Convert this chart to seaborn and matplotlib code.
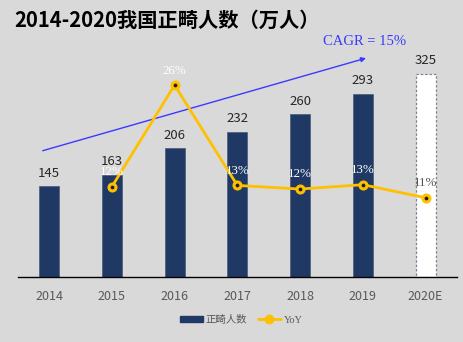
import matplotlib
matplotlib.use("Agg")
import matplotlib.pyplot as plt
import seaborn as sns
import numpy as np
import pandas as pd

years = ["2014", "2015", "2016", "2017", "2018", "2019", "2020E"]
patients = [145, 163, 206, 232, 260, 293, 325]
yoy_years = ["2015", "2016", "2017", "2018", "2019", "2020E"]
yoy = [12.4, 26.4, 12.6, 12.1, 12.7, 10.9]
yoy_labels = ["12%", "26%", "13%", "12%", "13%", "11%"]
title = "2014-2020我国正畸人数（万人）"
cagr_text = "CAGR = 15%"
bar_name = "正畸人数"
line_name = "YoY"

sns.set_theme(style="white")
plt.rcParams["font.family"] = ["Noto Sans CJK SC", "DejaVu Sans"]

BG = "#d9d9d9"
BAR = "#1f3864"
GOLD = "#ffc000"
SERIF = ["Liberation Serif", "DejaVu Serif"]

fig = plt.figure(figsize=(4.64, 3.42), dpi=100, facecolor=BG)
ax = fig.add_axes([0.038, 0.19, 0.947, 0.693])
ax.set_facecolor(BG)

df = pd.DataFrame({"year": years, "n": patients})
sns.barplot(data=df, x="year", y="n", color=BAR, width=0.32, ax=ax,
            saturation=1, edgecolor="#4a5a7a", linewidth=0.5)
last = ax.patches[-1]
last.set_facecolor("white")
last.set_edgecolor("#7a8494")
last.set_linestyle((0, (2, 1.5)))
last.set_linewidth(0.9)

ax.set_xlim(-0.5, 6.5)
ax.set_ylim(0, 379)
for i, v in enumerate(patients):
    ax.annotate(str(v), (i, v), xytext=(0, 9.5), textcoords="offset points",
                ha="center", va="center", fontsize=9.5, color="#262626")

for s in ["top", "right", "left"]:
    ax.spines[s].set_visible(False)
ax.spines["bottom"].set_color("black")
ax.spines["bottom"].set_linewidth(1.0)
ax.set_yticks([])
ax.set_xlabel("")
ax.set_ylabel("")
ax.tick_params(axis="x", length=0, pad=9, labelsize=9, labelcolor="#595959")

ax2 = ax.twinx()
ax2.set_ylim(0, 32.6)
xpos = [years.index(y) for y in yoy_years]
ldf = pd.DataFrame({"x": xpos, "yoy": yoy})
sns.lineplot(data=ldf, x="x", y="yoy", ax=ax2, color=GOLD, linewidth=2,
             marker="o", markersize=6.5, markerfacecolor=GOLD, markeredgecolor=GOLD)
ax2.scatter(xpos, yoy, s=3, color="#222222", zorder=5)
for x, v, lab in zip(xpos, yoy, yoy_labels):
    col = "#555555" if x == len(years) - 1 else "white"
    ax2.annotate(lab, (x, v), xytext=(0, 10.5), textcoords="offset points",
                 ha="center", va="center", fontsize=9.4, color=col, family=SERIF)
ax2.set_yticks([])
ax2.set_xlabel("")
ax2.set_ylabel("")
for s in ["top", "right", "left", "bottom"]:
    ax2.spines[s].set_visible(False)
ax2.set_xlim(-0.5, 6.5)

# CAGR arrow
ax.annotate("", xy=(5.05, 350), xytext=(-0.1, 202),
            arrowprops=dict(arrowstyle="-|>", color="#3a3aff", lw=1.0,
                            mutation_scale=7, shrinkA=0, shrinkB=0),
            annotation_clip=False)
ax.text(5.02, 376, cagr_text, ha="center", va="center", fontsize=10.5,
        color="#3a3aff", family=SERIF, clip_on=False)

fig.text(0.03, 0.94, title, ha="left", va="center", fontsize=14.6,
         fontweight="bold", color="black")

from matplotlib.patches import Patch
from matplotlib.lines import Line2D
handles = [Patch(facecolor=BAR, edgecolor=BAR),
           Line2D([], [], color=GOLD, lw=2, marker="o", markersize=6,
                  markerfacecolor=GOLD, markeredgecolor=GOLD)]
leg = fig.legend(handles, [bar_name, line_name], loc="center",
                 bbox_to_anchor=(0.52, 0.065), ncol=2, frameon=False,
                 fontsize=7.5, handlelength=2.2, handleheight=0.55,
                 columnspacing=1.0, handletextpad=0.3)
for t in leg.get_texts():
    t.set_color("#595959")
leg.get_texts()[1].set_family(SERIF)

fig.savefig("out.png", dpi=100, facecolor=BG)
